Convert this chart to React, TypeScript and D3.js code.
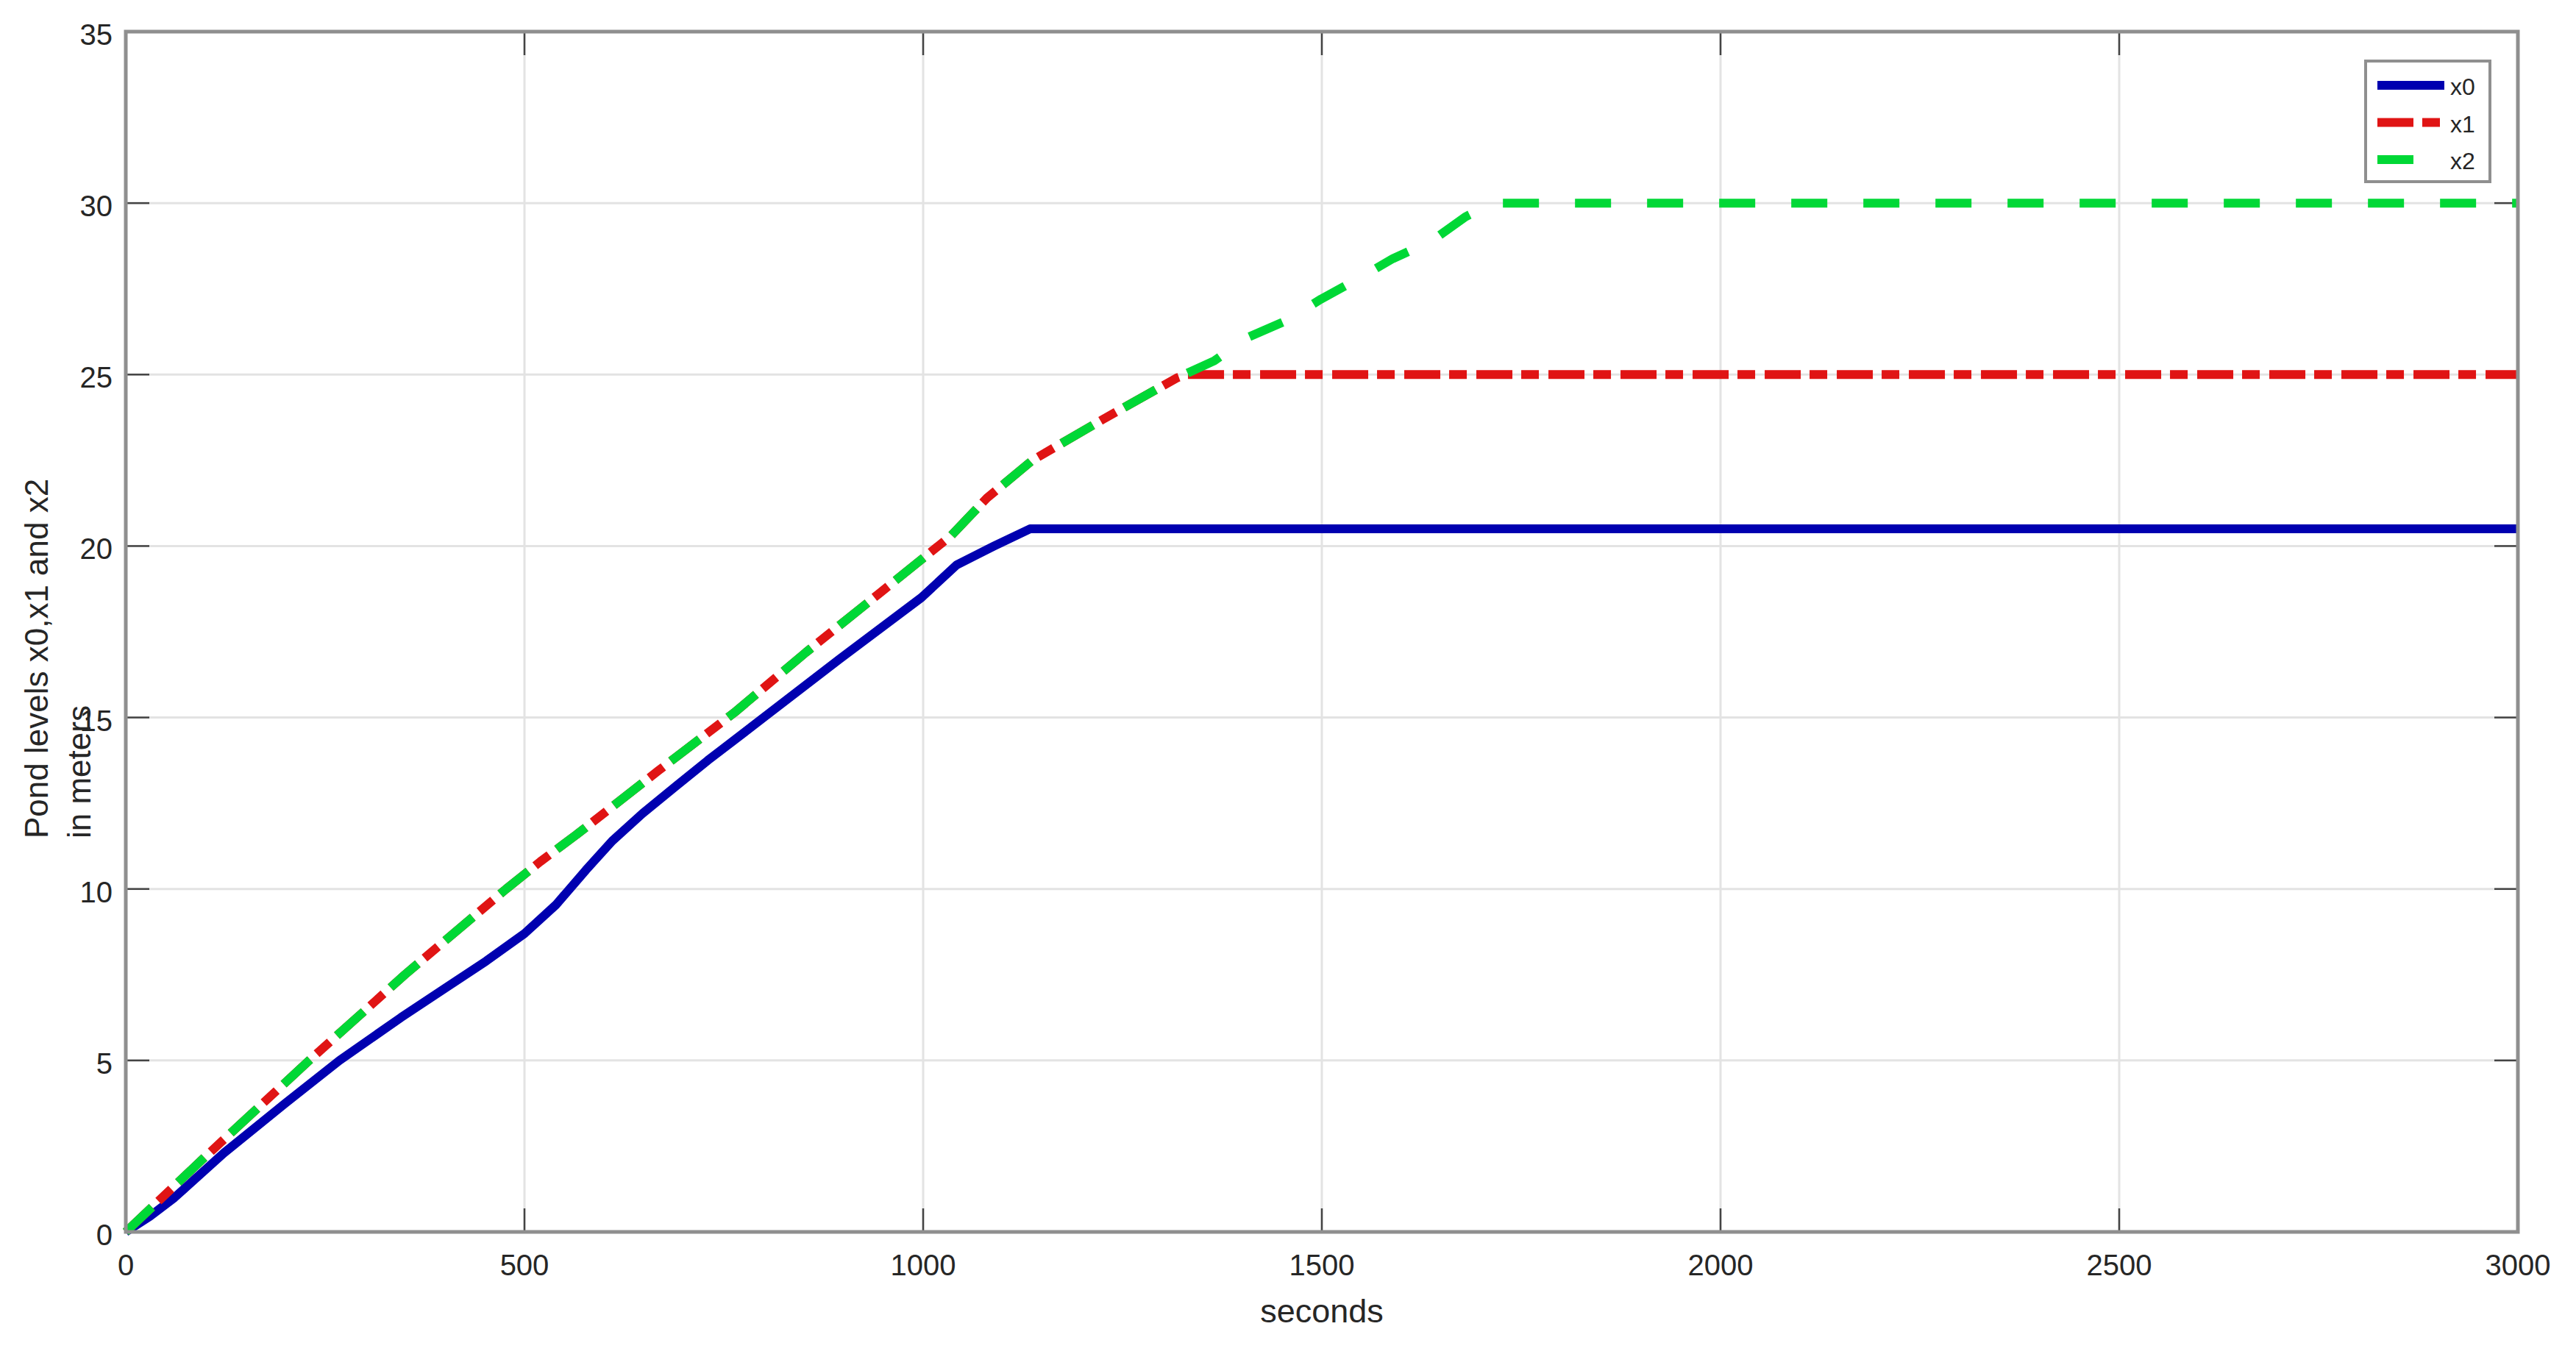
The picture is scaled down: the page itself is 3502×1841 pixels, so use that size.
import React from "react";
import * as d3 from "d3";

const timeX0 = [0, 30, 61, 123, 200, 268, 345, 400, 452, 500, 540, 577, 610, 648, 690, 730, 800, 895, 998, 1042, 1089, 1134, 3000];
const levelX0 = [0, 0.45, 1.0, 2.3, 3.75, 5.0, 6.25, 7.1, 7.9, 8.7, 9.55, 10.55, 11.4, 12.2, 13.0, 13.75, 15.0, 16.7, 18.5, 19.45, 20.0, 20.5, 20.5];

const timeX1 = [0, 100, 230, 350, 477, 520, 565, 668, 763, 853, 944, 1035, 1080, 1137, 1226, 1318, 1330, 3000];
const levelX1 = [0, 2.2, 5.0, 7.5, 10.0, 10.8, 11.58, 13.45, 15.14, 16.9, 18.6, 20.3, 21.4, 22.5, 23.7, 24.9, 25.0, 25.0];

const timeX2 = [0, 100, 230, 350, 477, 520, 565, 668, 763, 853, 944, 1035, 1080, 1137, 1226, 1318, 1365, 1407, 1454, 1499, 1546, 1589, 1638, 1680, 1715, 3000];
const levelX2 = [0, 2.2, 5.0, 7.5, 10.0, 10.8, 11.58, 13.45, 15.14, 16.9, 18.6, 20.3, 21.4, 22.5, 23.7, 24.9, 25.4, 26.08, 26.56, 27.2, 27.8, 28.38, 28.9, 29.6, 30.0, 30.0];

const xTicks = [0, 500, 1000, 1500, 2000, 2500, 3000];
const yTicks = [0, 5, 10, 15, 20, 25, 30, 35];

const seriesNames = ["x0", "x1", "x2"];
const seriesColors = ["#0000b0", "#e01414", "#00d836"];
const seriesDash = ["none", "49 12 24 13", "49 49"];

const W = 3502;
const H = 1841;
const L = 171, R = 3423, T = 43, B = 1675;

export default function App() {
  const x = d3.scaleLinear().domain([0, 3000]).range([L, R]);
  const y = d3.scaleLinear().domain([0, 35]).range([B, T]);
  const line = d3.line<[number, number]>().x(d => x(d[0])).y(d => y(d[1]));
  const data = [
    timeX0.map((t, i) => [t, levelX0[i]] as [number, number]),
    timeX1.map((t, i) => [t, levelX1[i]] as [number, number]),
    timeX2.map((t, i) => [t, levelX2[i]] as [number, number]),
  ];
  const font = "'Liberation Sans', Arial, sans-serif";
  const tickLen = 32;
  const leg = { x: 3216, y: 83, w: 169, h: 164 };
  return (
    <svg width={W} height={H} style={{ position: "absolute", left: 0, top: 0, background: "#fff" }} fontFamily={font}>
      <rect x={0} y={0} width={W} height={H} fill="#fff" />
      {/* grid */}
      {xTicks.slice(1, -1).map(t => (
        <line key={"gx" + t} x1={x(t)} x2={x(t)} y1={T} y2={B} stroke="#e3e3e3" strokeWidth={3} />
      ))}
      {yTicks.slice(1, -1).map(v => (
        <line key={"gy" + v} x1={L} x2={R} y1={y(v)} y2={y(v)} stroke="#e3e3e3" strokeWidth={3} />
      ))}
      {/* ticks */}
      {xTicks.map(t => (
        <g key={"tx" + t}>
          <line x1={x(t)} x2={x(t)} y1={B} y2={B - tickLen} stroke="#444" strokeWidth={2.5} />
          <line x1={x(t)} x2={x(t)} y1={T} y2={T + tickLen} stroke="#444" strokeWidth={2.5} />
          <text x={x(t)} y={1720} textAnchor="middle" dominantBaseline="central" fontSize={40} fill="#262626">{t}</text>
        </g>
      ))}
      {yTicks.map(v => (
        <g key={"ty" + v}>
          <line x1={L} x2={L + tickLen} y1={y(v)} y2={y(v)} stroke="#444" strokeWidth={2.5} />
          <line x1={R} x2={R - tickLen} y1={y(v)} y2={y(v)} stroke="#444" strokeWidth={2.5} />
          <text x={153} y={y(v) + 4} textAnchor="end" dominantBaseline="central" fontSize={40} fill="#262626">{v}</text>
        </g>
      ))}
      {/* series */}
      {data.map((d, i) => (
        <path key={"s" + i} d={line(d) || ""} fill="none" stroke={seriesColors[i]} strokeWidth={12}
          strokeDasharray={seriesDash[i]} strokeLinejoin="round" />
      ))}
      {/* frame */}
      <rect x={L} y={T} width={R - L} height={B - T} fill="none" stroke="#8f8f8f" strokeWidth={5} />
      {/* axis labels */}
      <text x={1797} y={1798} textAnchor="middle" fontSize={45} fill="#262626">seconds</text>
      <text transform="translate(65,1140) rotate(-90)" textAnchor="start" fontSize={44} fill="#262626">Pond levels x0,x1 and x2</text>
      <text transform="translate(123,1140) rotate(-90)" textAnchor="start" fontSize={44} fill="#262626">in meters</text>
      {/* legend */}
      <rect x={leg.x} y={leg.y} width={leg.w} height={leg.h} fill="#fff" stroke="#8f8f8f" strokeWidth={4} />
      {seriesNames.map((n, i) => {
        const ly = 116 + i * 50.5;
        return (
          <g key={"l" + n}>
            <line x1={3232} x2={3323} y1={ly} y2={ly} stroke={seriesColors[i]} strokeWidth={12} strokeDasharray={seriesDash[i]} />
            <text x={3331} y={ly + 2} dominantBaseline="central" fontSize={32} fill="#262626">{n}</text>
          </g>
        );
      })}
    </svg>
  );
}
